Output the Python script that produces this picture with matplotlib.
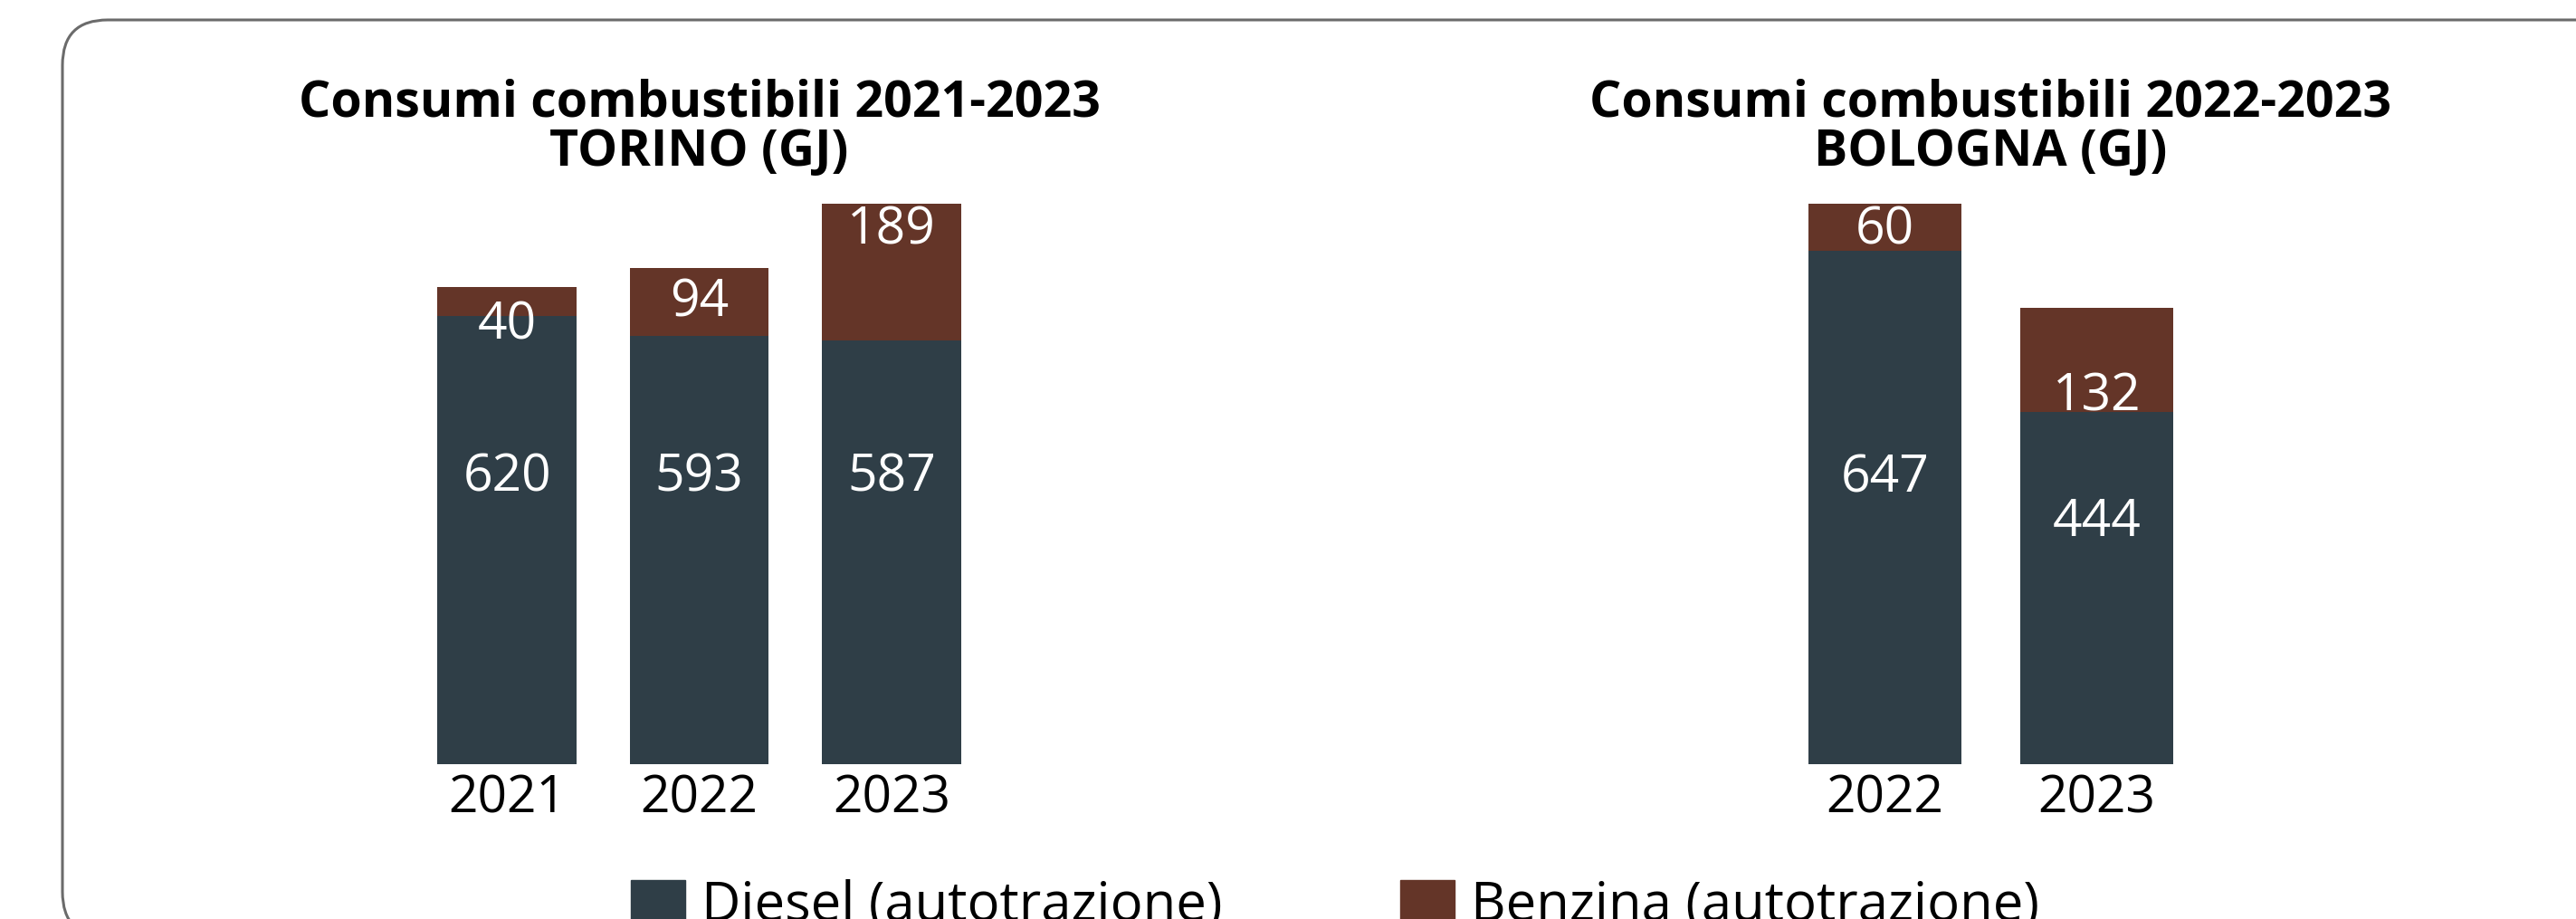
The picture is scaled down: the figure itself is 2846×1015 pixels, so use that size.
import matplotlib.pyplot as plt
from matplotlib.patches import FancyBboxPatch, Patch
from matplotlib.transforms import IdentityTransform

plt.rcParams['font.family'] = ['Open Sans', 'DejaVu Sans']

torino_years = ['2021', '2022', '2023']
torino_diesel = [620, 593, 587]
torino_benzina = [40, 94, 189]

bologna_years = ['2022', '2023']
bologna_diesel = [647, 444]
bologna_benzina = [60, 132]

# where the value labels sit in the original (in GJ, from the bar base)
torino_diesel_lab = [404, 404, 404]
torino_benzina_lab = [615, 647, 747]
bologna_diesel_lab = [368, 312]
bologna_benzina_lab = [681, 470]

DIESEL = '#2f3e47'
BENZINA = '#643528'
W, H = 2846, 1015


def stacked(ax, years, diesel, benzina, d_lab, b_lab, title):
    x = range(len(years))
    ax.bar(x, diesel, width=0.725, color=DIESEL)
    ax.bar(x, benzina, width=0.725, bottom=diesel, color=BENZINA)
    for i in x:
        ax.text(i, d_lab[i], str(diesel[i]), color='white', fontsize=41,
                ha='center', va='center_baseline')
        ax.text(i, b_lab[i], str(benzina[i]), color='white', fontsize=41,
                ha='center', va='center_baseline')
    ax.set_xlim(-0.5, len(years) - 0.5)
    ax.set_ylim(0, max(d + b for d, b in zip(diesel, benzina)))
    ax.set_xticks(list(x))
    ax.set_xticklabels(years, fontsize=41)
    ax.tick_params(axis='x', length=0, pad=8)
    ax.set_yticks([])
    for s in ax.spines.values():
        s.set_visible(False)
    ax.set_title(title, fontsize=40, fontweight='bold', linespacing=1.0, pad=30)


fig = plt.figure(figsize=(W / 100, H / 100), dpi=100)

frame = FancyBboxPatch((69, -20), 2900, H - 22 + 20,
                       boxstyle='round,pad=0,rounding_size=50',
                       transform=IdentityTransform(), facecolor='none',
                       edgecolor='#6b6b6b', linewidth=2.2)
fig.add_artist(frame)

bottom = 1 - 843.5 / H
height = (843.5 - 225) / H
ax1 = fig.add_axes([454 / W, bottom, 637 / W, height])
ax2 = fig.add_axes([1966 / W, bottom, 467 / W, height])

stacked(ax1, torino_years, torino_diesel, torino_benzina,
        torino_diesel_lab, torino_benzina_lab,
        'Consumi combustibili 2021-2023\nTORINO (GJ)')
stacked(ax2, bologna_years, bologna_diesel, bologna_benzina,
        bologna_diesel_lab, bologna_benzina_lab,
        'Consumi combustibili 2022-2023\nBOLOGNA (GJ)')

fig.legend(handles=[Patch(color=DIESEL, label='Diesel (autotrazione)'),
                    Patch(color=BENZINA, label='Benzina (autotrazione)')],
           loc='center left', bbox_to_anchor=(697 / W, 14 / H), ncol=2,
           frameon=False, fontsize=43, handlelength=1.0, handleheight=0.9,
           handletextpad=0.3, columnspacing=3.3, borderpad=0, borderaxespad=0)

fig.savefig('out.png', dpi=100)
